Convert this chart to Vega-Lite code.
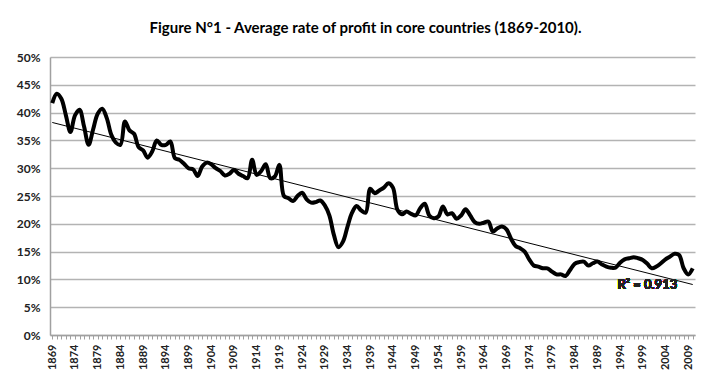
{
  "$schema": "https://vega.github.io/schema/vega-lite/v6.json",
  "width": 645,
  "height": 278,
  "autosize": {"type": "none"},
  "padding": {"left": 50, "top": 57, "right": 20, "bottom": 52},
  "background": "white",
  "title": {
    "text": "Figure N°1 - Average rate of profit in core countries (1869-2010).",
    "font": "Lato",
    "fontSize": 15,
    "fontWeight": "bold",
    "color": "black",
    "anchor": "middle",
    "offset": 15,
    "dx": -7
  },
  "config": {
    "view": {"stroke": null},
    "axis": {"labelFont": "Lato", "labelFontWeight": "bold", "labelColor": "#222222", "labelFontSize": 12}
  },
  "data": {
    "values": [
      {"year": 1869, "rate": 41.7}, {"year": 1870, "rate": 43.4}, {"year": 1871, "rate": 42.5}, {"year": 1872, "rate": 39.5},
      {"year": 1873, "rate": 36.5}, {"year": 1874, "rate": 39.5}, {"year": 1875, "rate": 40.5}, {"year": 1876, "rate": 37.5},
      {"year": 1877, "rate": 34.2}, {"year": 1878, "rate": 37.0}, {"year": 1879, "rate": 39.8}, {"year": 1880, "rate": 40.7},
      {"year": 1881, "rate": 39.0}, {"year": 1882, "rate": 36.0}, {"year": 1883, "rate": 34.6}, {"year": 1884, "rate": 34.2},
      {"year": 1885, "rate": 38.4}, {"year": 1886, "rate": 36.8}, {"year": 1887, "rate": 36.2}, {"year": 1888, "rate": 33.8},
      {"year": 1889, "rate": 33.2}, {"year": 1890, "rate": 31.9}, {"year": 1891, "rate": 33.0}, {"year": 1892, "rate": 35.0},
      {"year": 1893, "rate": 34.2}, {"year": 1894, "rate": 34.2}, {"year": 1895, "rate": 34.8}, {"year": 1896, "rate": 31.8},
      {"year": 1897, "rate": 31.5}, {"year": 1898, "rate": 30.8}, {"year": 1899, "rate": 30.0}, {"year": 1900, "rate": 29.8},
      {"year": 1901, "rate": 28.6}, {"year": 1902, "rate": 30.3}, {"year": 1903, "rate": 31.0}, {"year": 1904, "rate": 30.7},
      {"year": 1905, "rate": 30.0}, {"year": 1906, "rate": 29.5}, {"year": 1907, "rate": 28.7}, {"year": 1908, "rate": 29.0},
      {"year": 1909, "rate": 29.7}, {"year": 1910, "rate": 29.0}, {"year": 1911, "rate": 28.6}, {"year": 1912, "rate": 28.2},
      {"year": 1913, "rate": 31.5}, {"year": 1914, "rate": 28.8}, {"year": 1915, "rate": 29.5}, {"year": 1916, "rate": 30.7},
      {"year": 1917, "rate": 28.2}, {"year": 1918, "rate": 28.5}, {"year": 1919, "rate": 30.6}, {"year": 1920, "rate": 25.0},
      {"year": 1921, "rate": 24.6}, {"year": 1922, "rate": 24.1}, {"year": 1923, "rate": 25.0}, {"year": 1924, "rate": 25.6},
      {"year": 1925, "rate": 24.4}, {"year": 1926, "rate": 23.8}, {"year": 1927, "rate": 23.9}, {"year": 1928, "rate": 24.2},
      {"year": 1929, "rate": 23.3}, {"year": 1930, "rate": 21.5}, {"year": 1931, "rate": 18.0}, {"year": 1932, "rate": 15.8},
      {"year": 1933, "rate": 16.8}, {"year": 1934, "rate": 19.5}, {"year": 1935, "rate": 22.0}, {"year": 1936, "rate": 23.2},
      {"year": 1937, "rate": 22.4}, {"year": 1938, "rate": 22.0}, {"year": 1939, "rate": 26.3}, {"year": 1940, "rate": 25.5},
      {"year": 1941, "rate": 26.0}, {"year": 1942, "rate": 26.5}, {"year": 1943, "rate": 27.3}, {"year": 1944, "rate": 26.5},
      {"year": 1945, "rate": 22.5}, {"year": 1946, "rate": 21.7}, {"year": 1947, "rate": 22.2}, {"year": 1948, "rate": 21.8},
      {"year": 1949, "rate": 21.5}, {"year": 1950, "rate": 22.8}, {"year": 1951, "rate": 23.6}, {"year": 1952, "rate": 21.5},
      {"year": 1953, "rate": 21.0}, {"year": 1954, "rate": 21.3}, {"year": 1955, "rate": 23.1}, {"year": 1956, "rate": 21.7},
      {"year": 1957, "rate": 21.9}, {"year": 1958, "rate": 20.9}, {"year": 1959, "rate": 21.5}, {"year": 1960, "rate": 22.6},
      {"year": 1961, "rate": 21.5}, {"year": 1962, "rate": 20.3}, {"year": 1963, "rate": 20.0}, {"year": 1964, "rate": 20.2},
      {"year": 1965, "rate": 20.4}, {"year": 1966, "rate": 18.6}, {"year": 1967, "rate": 19.2}, {"year": 1968, "rate": 19.5},
      {"year": 1969, "rate": 19.0}, {"year": 1970, "rate": 17.3}, {"year": 1971, "rate": 16.0}, {"year": 1972, "rate": 15.6},
      {"year": 1973, "rate": 15.0}, {"year": 1974, "rate": 13.6}, {"year": 1975, "rate": 12.5}, {"year": 1976, "rate": 12.3},
      {"year": 1977, "rate": 12.0}, {"year": 1978, "rate": 12.0}, {"year": 1979, "rate": 11.4}, {"year": 1980, "rate": 10.9},
      {"year": 1981, "rate": 10.9}, {"year": 1982, "rate": 10.6}, {"year": 1983, "rate": 11.7}, {"year": 1984, "rate": 12.8},
      {"year": 1985, "rate": 13.1}, {"year": 1986, "rate": 13.2}, {"year": 1987, "rate": 12.5}, {"year": 1988, "rate": 12.9},
      {"year": 1989, "rate": 13.2}, {"year": 1990, "rate": 12.7}, {"year": 1991, "rate": 12.3}, {"year": 1992, "rate": 12.1},
      {"year": 1993, "rate": 12.1}, {"year": 1994, "rate": 13.0}, {"year": 1995, "rate": 13.6}, {"year": 1996, "rate": 13.8},
      {"year": 1997, "rate": 14.0}, {"year": 1998, "rate": 13.8}, {"year": 1999, "rate": 13.5}, {"year": 2000, "rate": 12.8},
      {"year": 2001, "rate": 12.0}, {"year": 2002, "rate": 12.3}, {"year": 2003, "rate": 12.9}, {"year": 2004, "rate": 13.6},
      {"year": 2005, "rate": 14.1}, {"year": 2006, "rate": 14.6}, {"year": 2007, "rate": 14.4}, {"year": 2008, "rate": 12.0},
      {"year": 2009, "rate": 10.9}, {"year": 2010, "rate": 12.0}
    ]
  },
  "encoding": {
    "x": {
      "field": "year", "type": "ordinal",
      "scale": {"type": "point", "padding": 0.5},
      "axis": {
        "title": null,
        "labelAngle": -90,
        "labelExpr": "(datum.value - 1869) % 5 === 0 ? datum.value : ''",
        "labelFontSize": 11,
        "labelPadding": 5,
        "labelOverlap": false,
        "tickSize": 4,
        "tickColor": "#a0a0a0",
        "domainColor": "#a0a0a0",
        "domainWidth": 1.5,
        "grid": false
      }
    },
    "y": {
      "field": "rate", "type": "quantitative",
      "scale": {"domain": [0, 50], "nice": false},
      "axis": {
        "title": null,
        "values": [0, 5, 10, 15, 20, 25, 30, 35, 40, 45, 50],
        "labelExpr": "datum.value + '%'",
        "labelPadding": 10,
        "labelOverlap": false,
        "ticks": false,
        "domainColor": "#a0a0a0",
        "domainWidth": 1.5,
        "gridColor": "#b3b3b3",
        "gridWidth": 1.5
      }
    }
  },
  "layer": [
    {
      "mark": {"type": "line", "color": "black", "strokeWidth": 4, "interpolate": "catmull-rom"}
    },
    {
      "transform": [{"regression": "rate", "on": "year"}],
      "mark": {"type": "line", "color": "black", "strokeWidth": 1}
    },
    {
      "mark": {"type": "text", "font": "Lato", "fontWeight": "bold", "fontSize": 13, "color": "#222222", "baseline": "middle", "align": "center"},
      "encoding": {
        "x": {"datum": 2000, "type": "ordinal"},
        "y": {"datum": 9.0, "type": "quantitative"},
        "text": {"value": "R² = 0.913"}
      }
    }
  ]
}
